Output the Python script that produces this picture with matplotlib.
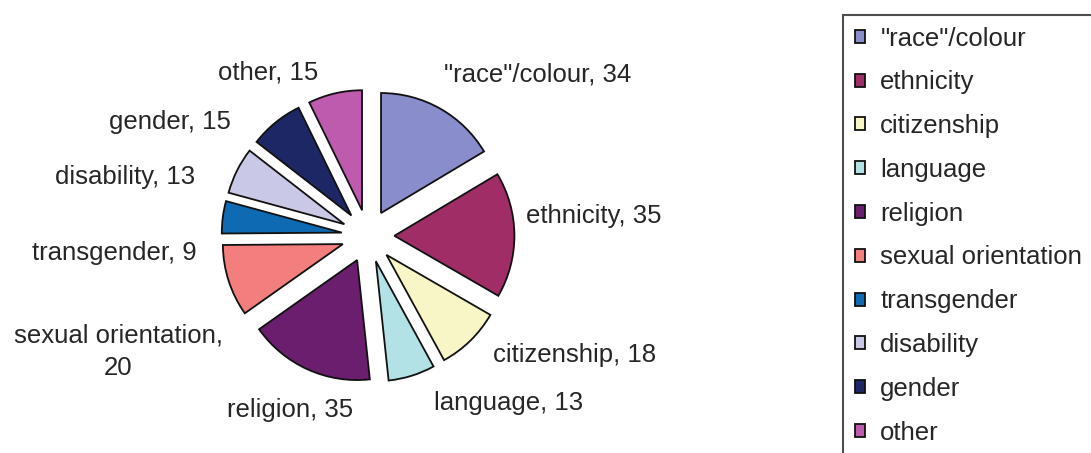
import matplotlib.pyplot as plt

plt.rcParams['font.family'] = ['Liberation Sans', 'DejaVu Sans']

# Datos del gráfico
categorias = ['"race"/colour', 'ethnicity', 'citizenship', 'language', 'religion',
              'sexual orientation', 'transgender', 'disability', 'gender', 'other']
valores = [34, 35, 18, 13, 35, 20, 9, 13, 15, 15]
colores = ['#8A8DCB', '#A02D66', '#F8F6C6', '#B2E1E6', '#6B1E6E',
           '#F27E7E', '#0D6AB3', '#C9C8E6', '#1E2766', '#BF5BAF']

# Posición de cada etiqueta (unidades del radio, centro del pastel en 0,0)
pos_etiquetas = [(1.41, 1.343), (1.885, 0.163), (1.725, -0.992), (1.17, -1.392),
                 (-0.65, -1.447), (-2.08, -0.967), (-2.11, -0.142), (-2.025, 0.493),
                 (-1.65, 0.95), (-0.833, 1.366)]
textos = ['"race"/colour, 34', 'ethnicity, 35', 'citizenship, 18', 'language, 13',
          'religion, 35', 'sexual orientation,\n20', 'transgender, 9', 'disability, 13',
          'gender, 15', 'other, 15']

W, H = 1091, 453
cx, cy, r = 368, 236, 120

fig = plt.figure(figsize=(W / 100, H / 100), dpi=100)
ax = fig.add_axes([0, 0, 1, 1])

wedges, _ = ax.pie(valores, colors=colores, startangle=90, counterclock=False,
                   explode=[0.22] * len(valores), radius=1,
                   wedgeprops=dict(edgecolor='#111111', linewidth=1.3))

for (x, y), t in zip(pos_etiquetas, textos):
    ax.text(x, y, t, ha='center', va='center', fontsize=18.5, color='#262626',
            linespacing=1.45)

ax.set_xlim(-cx / r, (W - cx) / r)
ax.set_ylim(-(H - cy) / r, cy / r)
ax.set_aspect('auto')
ax.axis('off')

leg = fig.legend(wedges, categorias, loc='upper left',
                 bbox_to_anchor=(843 / W, 1 - 15 / H), frameon=True,
                 fancybox=False, fontsize=18.5, handlelength=0.4, handleheight=0.4,
                 handletextpad=0.6, labelspacing=0.77, borderpad=0.45,
                 borderaxespad=0)
leg.get_frame().set_edgecolor('#222222')
leg.get_frame().set_linewidth(1.5)
for txt in leg.get_texts():
    txt.set_color('#262626')

plt.savefig('out.png', dpi=100)
plt.close()
